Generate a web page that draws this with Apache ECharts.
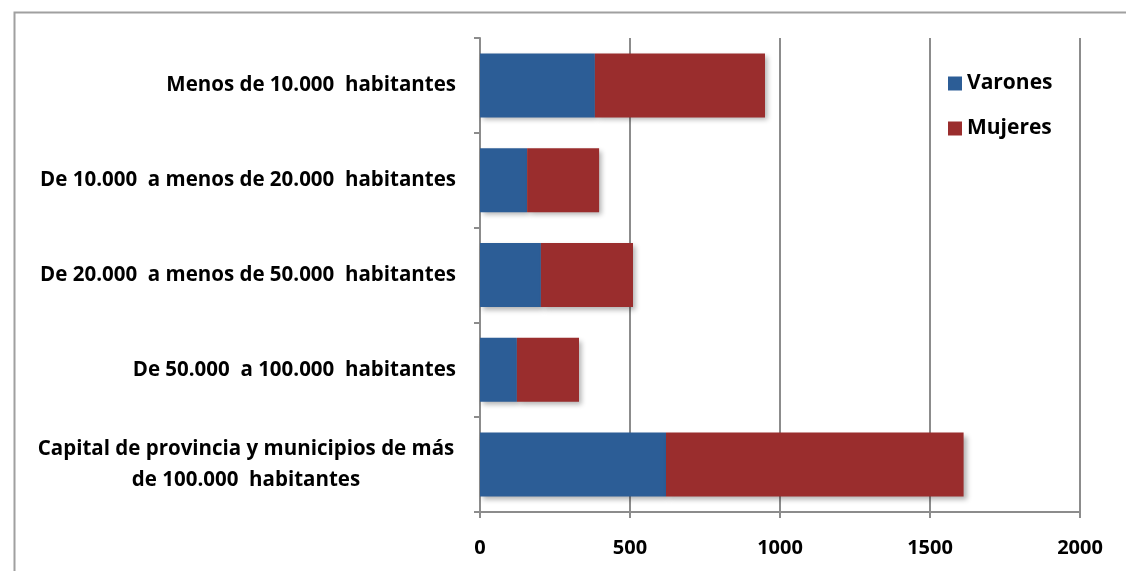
<!DOCTYPE html>
<html>
<head>
<meta charset="utf-8">
<script src="https://cdn.jsdelivr.net/npm/echarts@6/dist/echarts.min.js"></script>
<style>
html,body{margin:0;padding:0;background:#fff;}
#chart{width:1126px;height:571px;}
</style>
</head>
<body>
<div id="chart"></div>
<script>
const categories = [
  'Menos de 10.000  habitantes',
  'De 10.000  a menos de 20.000  habitantes',
  'De 20.000  a menos de 50.000  habitantes',
  'De 50.000  a 100.000  habitantes',
  'Capital de provincia y municipios de más\nde 100.000  habitantes'
];
const varones = [383, 157, 203, 123, 620];
const mujeres = [567, 240, 307, 207, 992];
const seriesNames = ['Varones', 'Mujeres'];
const xTicks = [0, 500, 1000, 1500, 2000];

const FONT = '"Open Sans", "Liberation Sans", sans-serif';
const shadow = {shadowBlur: 5, shadowOffsetX: 3, shadowOffsetY: 3, shadowColor: 'rgba(0,0,0,0.3)'};

const chart = echarts.init(document.getElementById('chart'));
chart.setOption({
  animation: false,
  backgroundColor: '#fff',
  textStyle: {fontFamily: FONT},
  graphic: [{
    type: 'rect', left: 12, top: 10, silent: true,
    shape: {width: 1200, height: 640},
    style: {fill: 'none', stroke: '#a0a0a0', lineWidth: 2}
  }],
  grid: {left: 480, right: 46, top: 38, bottom: 59, containLabel: false},
  legend: {
    orient: 'vertical', left: 943, top: 68, itemGap: 24,
    itemWidth: 14, itemHeight: 14, icon: 'rect',
    textStyle: {fontFamily: FONT, fontWeight: 'bold', fontSize: 21, color: '#000'},
    data: seriesNames
  },
  xAxis: {
    type: 'value', min: xTicks[0], max: xTicks[xTicks.length - 1], interval: 500,
    axisLine: {show: true, lineStyle: {color: '#8c8c8c', width: 2}},
    axisTick: {show: true, length: 6, lineStyle: {color: '#8c8c8c', width: 2}},
    splitLine: {show: true, lineStyle: {color: '#8c8c8c', width: 2}},
    axisLabel: {fontFamily: FONT, fontWeight: 'bold', fontSize: 20, color: '#000', margin: 26,
      formatter: function (v) { return String(v); }}
  },
  yAxis: {
    type: 'category', inverse: true, data: categories,
    axisLine: {show: true, lineStyle: {color: '#8c8c8c', width: 2}},
    axisTick: {show: true, length: 6, lineStyle: {color: '#8c8c8c', width: 2}},
    axisLabel: {
      fontFamily: FONT, fontWeight: 'bold', fontSize: 20.5, color: '#000', margin: 24, lineHeight: 31,
      formatter: function (v, i) { return i === 4 ? '{c|' + v.replace('\n', '}\n{c|') + '}' : v; },
      rich: {c: {width: 420, align: 'center', fontFamily: FONT, fontWeight: 'bold', fontSize: 20.5, color: '#000', lineHeight: 31}}
    }
  },
  series: [
    {name: seriesNames[0], type: 'bar', stack: 't', data: varones, barWidth: 64,
     itemStyle: Object.assign({color: '#2C5D96'}, shadow)},
    {name: seriesNames[1], type: 'bar', stack: 't', data: mujeres, barWidth: 64,
     itemStyle: Object.assign({color: '#9A2D2D'}, shadow)}
  ]
});
</script>
</body>
</html>
